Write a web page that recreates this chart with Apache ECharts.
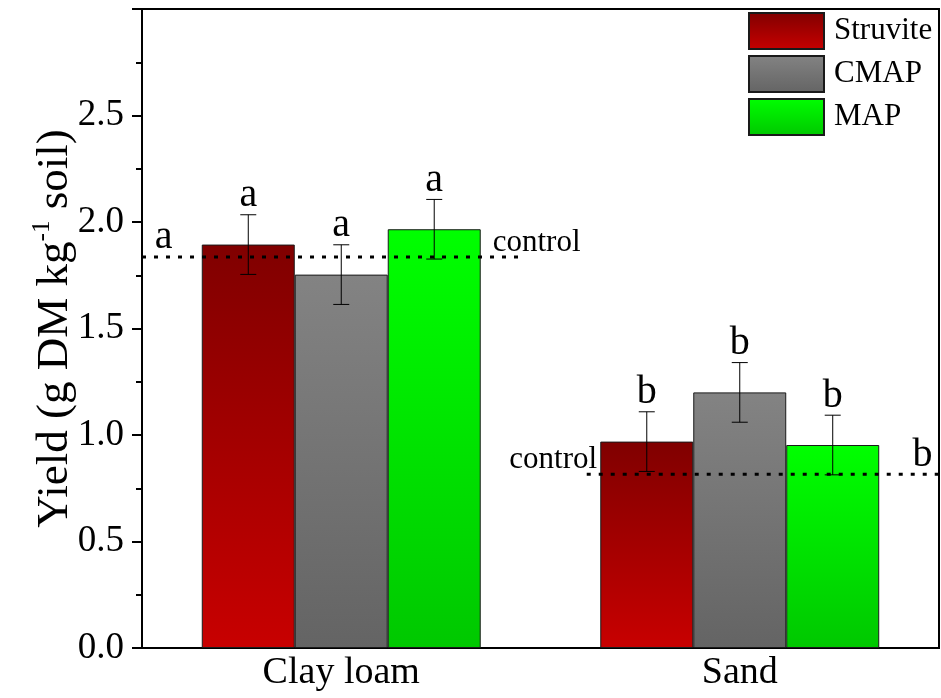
<!DOCTYPE html>
<html>
<head>
<meta charset="utf-8">
<script src="https://cdn.jsdelivr.net/npm/echarts@6/dist/echarts.min.js"></script>
<style>html,body{margin:0;padding:0;background:#fff;}#c{width:941px;height:698px;}</style>
</head>
<body>
<div id="c"></div>
<script>
const categories = ['Clay loam', 'Sand'];
const seriesNames = ['Struvite', 'CMAP', 'MAP'];
const struvite = [1.894, 0.969];
const cmap = [1.753, 1.200];
const map = [1.966, 0.953];
const struviteErr = [0.14, 0.14];
const cmapErr = [0.14, 0.14];
const mapErr = [0.14, 0.14];
const struviteLetters = ['a', 'b'];
const cmapLetters = ['a', 'b'];
const mapLetters = ['a', 'b'];
const controlClay = 1.836;
const controlSand = 0.816;
const yTickLabels = ['0.0', '0.5', '1.0', '1.5', '2.0', '2.5'];
const annTexts = ['a', 'control', 'control', 'b'];

const FONT = 'Liberation Serif';
const chart = echarts.init(document.getElementById('c'), null, {renderer: 'canvas'});

const values = [struvite, cmap, map];
const errs = [struviteErr, cmapErr, mapErr];
const letters = [struviteLetters, cmapLetters, mapLetters];
const gradients = [
  ['#800000', '#c80000'],
  ['#838383', '#646464'],
  ['#00ff00', '#00c800']
];
const CAT_GAP = 0.3;

const barSeries = seriesNames.map((name, k) => ({
  name: name,
  type: 'bar',
  xAxisIndex: 0,
  yAxisIndex: 0,
  barGap: '0%',
  barCategoryGap: (CAT_GAP * 100) + '%',
  data: values[k],
  itemStyle: {
    color: new echarts.graphic.LinearGradient(0, 0, 0, 1, [
      {offset: 0, color: gradients[k][0]},
      {offset: 1, color: gradients[k][1]}
    ]),
    borderColor: '#1a1a1a',
    borderWidth: 1
  },
  z: 2
}));

const errSeries = seriesNames.map((name, k) => ({
  name: name + ' err',
  type: 'custom',
  xAxisIndex: 0,
  yAxisIndex: 0,
  z: 5,
  silent: true,
  data: categories.map((c, i) => [i, values[k][i], errs[k][i]]),
  renderItem: function (params, api) {
    const i = api.value(0), v = api.value(1), e = api.value(2);
    const c = api.coord([i, v]);
    const bandW = api.size([1, 0])[0];
    const barW = bandW * (1 - CAT_GAP) / 3;
    const x = c[0] + (k - 1) * barW;
    const top = api.coord([i, v + e])[1];
    const bot = api.coord([i, v - e])[1];
    const cap = 8;
    const ls = {stroke: '#000', lineWidth: 1};
    return {
      type: 'group',
      children: [
        {type: 'line', shape: {x1: x, y1: top, x2: x, y2: bot}, style: ls},
        {type: 'line', shape: {x1: x - cap, y1: top, x2: x + cap, y2: top}, style: ls},
        {type: 'line', shape: {x1: x - cap, y1: bot, x2: x + cap, y2: bot}, style: ls},
        {type: 'text', style: {text: letters[k][params.dataIndex], x: x, y: top + 1,
          align: 'center', verticalAlign: 'bottom', fontSize: 40, fontFamily: FONT, fill: '#000'}}
      ]
    };
  }
}));

const controlStyle = {color: '#000', width: 3, type: [4, 8]};
const controlSeries = [
  {type: 'line', xAxisIndex: 1, yAxisIndex: 0, symbol: 'none', silent: true, z: 6,
   lineStyle: controlStyle, data: [[0, controlClay], [0.478, controlClay]]},
  {type: 'line', xAxisIndex: 1, yAxisIndex: 0, symbol: 'none', silent: true, z: 6,
   lineStyle: controlStyle, data: [[0.558, controlSand], [1, controlSand]]}
];

// annotation anchors: [x fraction, y value], align, font size
const annAnchors = [[0.016, controlClay], [0.440, controlClay], [0.571, controlSand], [0.992, controlSand]];
const annAlign = ['left', 'left', 'right', 'right'];
const annSize = [40, 31, 31, 40];
const annSeries = {
  type: 'custom', xAxisIndex: 1, yAxisIndex: 0, silent: true, z: 7,
  data: annAnchors,
  renderItem: function (params, api) {
    const p = api.coord([api.value(0), api.value(1)]);
    const j = params.dataIndex;
    return {type: 'text', style: {text: annTexts[j], x: p[0], y: p[1] + 1, align: annAlign[j],
      verticalAlign: 'bottom', fontSize: annSize[j], fontFamily: FONT, fill: '#000'}};
  }
};

const option = {
  animation: false,
  backgroundColor: '#fff',
  textStyle: {fontFamily: FONT},
  grid: {left: 142, right: 2, top: 9, bottom: 50, show: true, borderColor: '#000', borderWidth: 2, backgroundColor: 'transparent'},
  legend: {
    data: seriesNames,
    orient: 'vertical',
    left: 748,
    top: 12,
    itemWidth: 75,
    itemHeight: 36,
    itemGap: 5,
    icon: 'rect',
    padding: 0,
    textStyle: {fontSize: 31, fontFamily: FONT, color: '#000', padding: [0, 0, 0, 5]}
  },
  xAxis: [
    {type: 'category', data: categories,
     axisLine: {lineStyle: {color: '#000', width: 2}},
     axisTick: {show: false},
     axisLabel: {fontSize: 38, fontFamily: FONT, color: '#000', margin: 6},
     splitLine: {show: false}},
    {type: 'value', min: 0, max: 1, show: false}
  ],
  yAxis: {
    type: 'value', min: 0, max: 3, interval: 0.5,
    axisLine: {show: true, lineStyle: {color: '#000', width: 2}},
    axisTick: {show: true, inside: false, length: 10, lineStyle: {color: '#000', width: 2}},
    minorTick: {show: true, splitNumber: 2, length: 6, lineStyle: {color: '#000', width: 2}},
    splitLine: {show: false},
    axisLabel: {fontSize: 37, fontFamily: FONT, color: '#000', margin: 18,
      formatter: function (v) { const s = v.toFixed(1); return yTickLabels.indexOf(s) >= 0 ? s : ''; }},
    name: '{m|Yield (g DM kg}{s|-1}{m| soil)}',
    nameLocation: 'middle',
    nameRotate: 90,
    nameGap: 64,
    nameMoveOverlap: false,
    nameTextStyle: {
      rich: {
        m: {fontSize: 45, fontFamily: FONT, color: '#000', lineHeight: 48, verticalAlign: 'bottom'},
        s: {fontSize: 25, fontFamily: FONT, color: '#000', lineHeight: 48, verticalAlign: 'top'}
      }
    }
  },
  series: [...barSeries, ...errSeries, ...controlSeries, annSeries]
};
chart.setOption(option);
</script>
</body>
</html>
